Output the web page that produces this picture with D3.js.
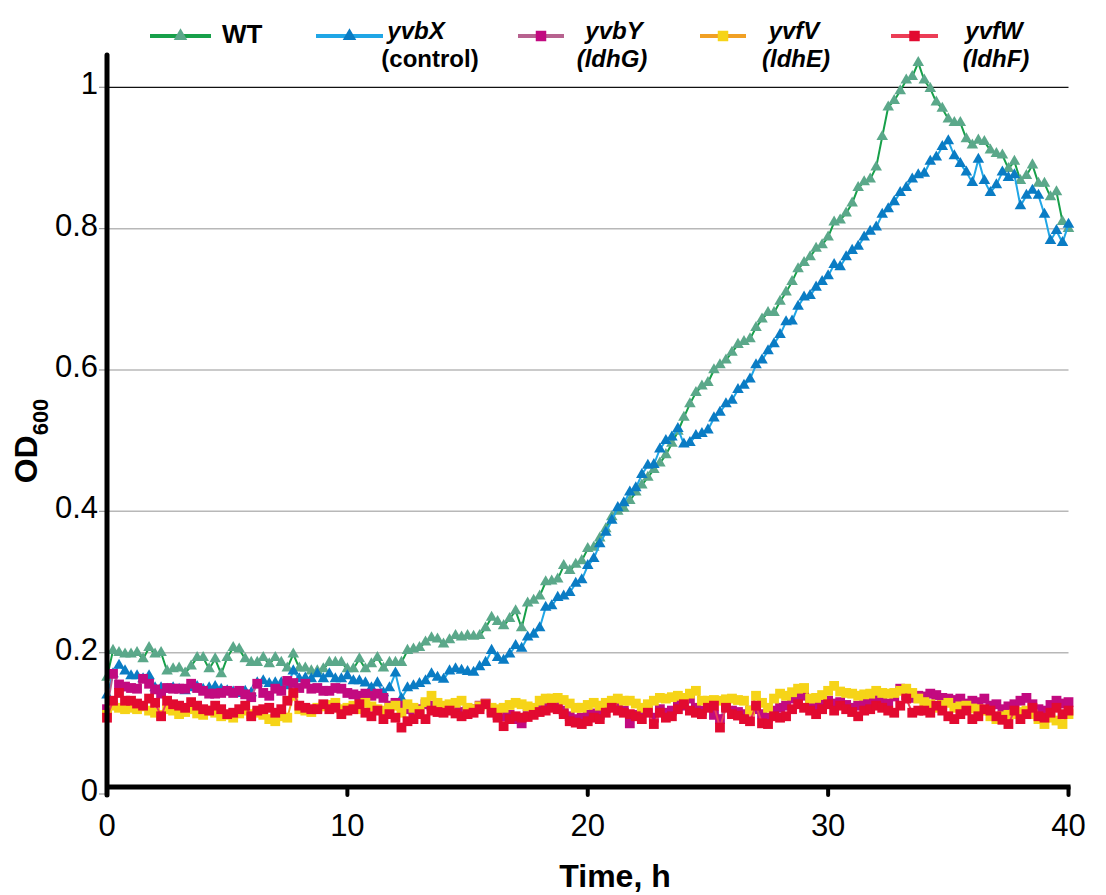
<!DOCTYPE html>
<html>
<head>
<meta charset="utf-8">
<title>OD600 growth curves</title>
<script src="https://d3js.org/d3.v7.min.js"></script>
<style>
  body { margin: 0; background: #fff; }
  svg text { font-family: "Liberation Sans", Arial, Helvetica, sans-serif; fill: #000; }
</style>
</head>
<body>
<div id="chart"></div>
<script>
// sampling times, h (one reading every 15 min)
var hours = d3.range(0, 40.001, 0.25);

var xTicks = [0, 10, 20, 30, 40];
var yTicks = [0, 0.2, 0.4, 0.6, 0.8, 1];

// OD600 readings, one per entry of hours
var wt = [
  0.165,0.203,0.200,0.198,0.198,0.200,0.191,0.207,0.198,0.200,0.174,0.177,0.178,0.171,0.181,0.193,
  0.193,0.177,0.191,0.170,0.193,0.207,0.205,0.191,0.186,0.186,0.193,0.184,0.193,0.186,0.178,0.198,
  0.178,0.178,0.174,0.174,0.177,0.186,0.186,0.186,0.177,0.177,0.191,0.177,0.184,0.193,0.178,0.186,
  0.186,0.186,0.203,0.205,0.207,0.215,0.221,0.219,0.212,0.218,0.224,0.222,0.224,0.223,0.224,0.235,
  0.250,0.244,0.238,0.248,0.259,0.235,0.270,0.274,0.280,0.300,0.301,0.304,0.323,0.316,0.325,0.330,
  0.347,0.349,0.362,0.375,0.392,0.400,0.404,0.415,0.427,0.437,0.448,0.459,0.468,0.480,0.496,0.513,
  0.533,0.552,0.568,0.577,0.582,0.600,0.607,0.614,0.625,0.636,0.640,0.644,0.660,0.672,0.681,0.681,
  0.697,0.710,0.725,0.743,0.752,0.760,0.772,0.777,0.788,0.809,0.812,0.822,0.836,0.858,0.866,0.870,
  0.887,0.930,0.972,0.981,0.995,1.010,1.015,1.035,1.010,0.998,0.979,0.970,0.955,0.950,0.950,0.927,
  0.918,0.925,0.923,0.911,0.906,0.904,0.885,0.895,0.868,0.875,0.890,0.864,0.864,0.845,0.852,0.810,
  0.800
];
var yvbX = [
  0.140,0.170,0.182,0.174,0.167,0.167,0.163,0.167,0.150,0.150,0.148,0.150,0.148,0.146,0.150,0.152,
  0.148,0.150,0.152,0.148,0.146,0.144,0.142,0.145,0.143,0.157,0.160,0.156,0.157,0.157,0.153,0.174,
  0.163,0.164,0.163,0.170,0.163,0.170,0.163,0.163,0.167,0.160,0.160,0.157,0.150,0.157,0.143,0.150,
  0.171,0.135,0.150,0.153,0.156,0.160,0.170,0.165,0.162,0.174,0.177,0.175,0.173,0.172,0.180,0.186,
  0.203,0.193,0.189,0.198,0.210,0.206,0.222,0.226,0.235,0.264,0.266,0.278,0.280,0.285,0.298,0.303,
  0.323,0.333,0.354,0.370,0.387,0.405,0.412,0.427,0.433,0.452,0.465,0.466,0.488,0.500,0.505,0.517,
  0.495,0.497,0.507,0.510,0.515,0.532,0.540,0.552,0.557,0.572,0.578,0.587,0.607,0.614,0.627,0.637,
  0.650,0.668,0.669,0.690,0.703,0.705,0.717,0.725,0.733,0.749,0.746,0.760,0.769,0.775,0.788,0.796,
  0.802,0.820,0.828,0.838,0.851,0.858,0.870,0.876,0.878,0.895,0.901,0.916,0.924,0.903,0.892,0.880,
  0.865,0.898,0.868,0.851,0.862,0.880,0.872,0.876,0.832,0.847,0.854,0.847,0.820,0.783,0.797,0.780,
  0.806
];
var yvbY = [
  0.120,0.170,0.155,0.152,0.150,0.149,0.163,0.156,0.148,0.142,0.150,0.149,0.149,0.149,0.156,0.150,
  0.146,0.142,0.142,0.143,0.146,0.143,0.146,0.141,0.137,0.156,0.143,0.139,0.149,0.146,0.160,0.157,
  0.150,0.156,0.149,0.150,0.146,0.146,0.150,0.149,0.143,0.141,0.139,0.142,0.139,0.142,0.136,0.125,
  0.129,0.125,0.120,0.118,0.120,0.127,0.125,0.122,0.120,0.122,0.118,0.116,0.118,0.120,0.125,0.128,
  0.118,0.112,0.110,0.112,0.106,0.100,0.113,0.118,0.122,0.125,0.126,0.124,0.118,0.110,0.106,0.108,
  0.112,0.114,0.112,0.122,0.125,0.122,0.118,0.100,0.112,0.116,0.118,0.108,0.120,0.115,0.118,0.128,
  0.125,0.135,0.122,0.118,0.127,0.112,0.106,0.125,0.118,0.116,0.113,0.118,0.120,0.113,0.108,0.118,
  0.122,0.125,0.135,0.138,0.139,0.128,0.124,0.130,0.132,0.128,0.130,0.126,0.122,0.125,0.130,0.132,
  0.135,0.130,0.128,0.138,0.149,0.140,0.136,0.139,0.138,0.142,0.140,0.136,0.135,0.133,0.135,0.128,
  0.132,0.130,0.135,0.125,0.127,0.120,0.124,0.127,0.132,0.136,0.127,0.120,0.118,0.126,0.132,0.128,
  0.130
];
var yvfV = [
  0.112,0.125,0.122,0.120,0.122,0.120,0.124,0.118,0.115,0.112,0.120,0.118,0.113,0.116,0.120,0.114,
  0.112,0.118,0.115,0.110,0.112,0.108,0.114,0.118,0.113,0.115,0.112,0.106,0.103,0.110,0.108,0.139,
  0.120,0.118,0.116,0.122,0.124,0.126,0.129,0.120,0.122,0.125,0.120,0.129,0.124,0.120,0.118,0.122,
  0.125,0.115,0.127,0.122,0.118,0.130,0.139,0.129,0.125,0.127,0.129,0.132,0.122,0.120,0.124,0.127,
  0.122,0.120,0.122,0.126,0.129,0.127,0.124,0.122,0.132,0.135,0.135,0.136,0.133,0.128,0.122,0.122,
  0.126,0.129,0.125,0.129,0.132,0.135,0.132,0.132,0.128,0.122,0.127,0.132,0.136,0.135,0.137,0.139,
  0.136,0.142,0.146,0.132,0.132,0.133,0.132,0.134,0.135,0.133,0.132,0.118,0.139,0.129,0.122,0.135,
  0.142,0.139,0.144,0.149,0.150,0.135,0.136,0.140,0.146,0.153,0.145,0.143,0.142,0.139,0.141,0.142,
  0.146,0.143,0.142,0.143,0.146,0.149,0.143,0.135,0.130,0.127,0.122,0.126,0.129,0.122,0.124,0.125,
  0.121,0.120,0.118,0.110,0.106,0.110,0.112,0.113,0.116,0.118,0.113,0.106,0.099,0.108,0.104,0.099,
  0.113
];
var yvfW = [
  0.108,0.132,0.143,0.132,0.132,0.128,0.125,0.135,0.129,0.110,0.132,0.127,0.125,0.122,0.130,0.125,
  0.120,0.118,0.125,0.120,0.113,0.115,0.120,0.125,0.110,0.118,0.120,0.122,0.115,0.120,0.132,0.143,
  0.125,0.122,0.120,0.120,0.127,0.120,0.122,0.113,0.118,0.120,0.127,0.115,0.110,0.118,0.106,0.113,
  0.108,0.094,0.103,0.106,0.113,0.106,0.118,0.116,0.115,0.118,0.114,0.110,0.113,0.115,0.120,0.127,
  0.115,0.108,0.096,0.106,0.110,0.108,0.109,0.112,0.116,0.118,0.122,0.120,0.113,0.103,0.101,0.099,
  0.103,0.108,0.106,0.115,0.122,0.118,0.115,0.113,0.110,0.106,0.115,0.099,0.115,0.108,0.110,0.120,
  0.127,0.118,0.115,0.113,0.122,0.125,0.094,0.122,0.113,0.111,0.106,0.103,0.125,0.100,0.099,0.110,
  0.108,0.110,0.120,0.127,0.122,0.118,0.113,0.120,0.127,0.118,0.125,0.120,0.116,0.110,0.118,0.120,
  0.125,0.122,0.118,0.115,0.125,0.135,0.115,0.118,0.118,0.115,0.125,0.118,0.110,0.106,0.113,0.118,
  0.106,0.110,0.120,0.118,0.110,0.105,0.099,0.118,0.106,0.113,0.122,0.110,0.108,0.115,0.122,0.113,
  0.118
];

var series = [
  {label: "WT",   note: null,        values: wt,   line: "#17a04a", mark: "#5ba88a", shape: "tri"},
  {label: "yvbX", note: "(control)", values: yvbX, line: "#20a6e6", mark: "#0a7cc4", shape: "tri"},
  {label: "yvbY", note: "(ldhG)",    values: yvbY, line: "#b7628f", mark: "#c20a80", shape: "sq"},
  {label: "yvfV", note: "(ldhE)",    values: yvfV, line: "#f1a024", mark: "#f6d418", shape: "sq"},
  {label: "yvfW", note: "(ldhF)",    values: yvfW, line: "#ec3d56", mark: "#e20a30", shape: "sq"}
];

var width = 1106, height = 895;

var svg = d3.select("#chart").append("svg")
    .attr("width", width)
    .attr("height", height);

var x = d3.scaleLinear().domain([0, 40]).range([107, 1068.5]);
var y = d3.scaleLinear().domain([0, 1]).range([794, 87.3]);

var triangle = d3.symbol().type(d3.symbolTriangle).size(58);
var square = d3.symbol().type(d3.symbolSquare).size(96);
function shapePath(s) { return s == "tri" ? triangle() : square(); }

// grid lines
svg.append("g")
    .selectAll("line")
    .data(yTicks.filter(function(d) { return d > 0; }))
    .enter()
    .append("line")
    .attr("x1", x(0))
    .attr("x2", x(40))
    .attr("y1", function(d) { return y(d); })
    .attr("y2", function(d) { return y(d); })
    .attr("stroke", function(d) { return d == 1 ? "#111" : "#b8b8b8"; })
    .attr("stroke-width", function(d) { return d == 1 ? 1.2 : 1.5; });

// y tick labels + little ticks
var yAxis = svg.append("g");
yAxis.selectAll("line")
    .data(yTicks)
    .enter()
    .append("line")
    .attr("x1", 99).attr("x2", 107)
    .attr("y1", function(d) { return y(d); })
    .attr("y2", function(d) { return y(d); })
    .attr("stroke", "#999")
    .attr("stroke-width", 1.2);
yAxis.selectAll("text")
    .data(yTicks)
    .enter()
    .append("text")
    .attr("x", 98)
    .attr("y", function(d) { return y(d) - 4; })
    .attr("dy", "0.36em")
    .attr("text-anchor", "end")
    .style("font-size", "31px")
    .text(function(d) { return d3.format("~g")(d); });

// series: lines then markers
var lineGen = d3.line()
    .x(function(d, i) { return x(hours[i]); })
    .y(function(d) { return y(d); });

var g = svg.selectAll("g.series")
    .data(series)
    .enter()
    .append("g")
    .attr("class", "series");

g.append("path")
    .attr("d", function(s) { return lineGen(s.values); })
    .attr("fill", "none")
    .attr("stroke", function(s) { return s.line; })
    .attr("stroke-width", 2);

g.each(function(s) {
    d3.select(this).selectAll("path.pt")
        .data(s.values)
        .enter()
        .append("path")
        .attr("class", "pt")
        .attr("d", shapePath(s.shape))
        .attr("transform", function(d, i) {
            return "translate(" + x(hours[i]) + "," + y(d) + ")";
        })
        .attr("fill", s.mark);
});

// axes (drawn on top, thick black like the original)
var xAxisY = y(0) - 7;   // the x axis line sits a bit above zero in the original
svg.append("line")
    .attr("x1", x(0) - 2).attr("x2", x(40) + 2)
    .attr("y1", xAxisY).attr("y2", xAxisY)
    .attr("stroke", "#000").attr("stroke-width", 5);
svg.append("line")
    .attr("x1", x(0)).attr("x2", x(0))
    .attr("y1", 55).attr("y2", y(0) + 1)
    .attr("stroke", "#000").attr("stroke-width", 5)
    .attr("stroke-linecap", "round");

var xAxis = svg.append("g");
xAxis.selectAll("line")
    .data(xTicks)
    .enter()
    .append("line")
    .attr("x1", function(d) { return x(d); })
    .attr("x2", function(d) { return x(d); })
    .attr("y1", xAxisY)
    .attr("y2", xAxisY + 8)
    .attr("stroke", "#000")
    .attr("stroke-width", 4)
    .attr("stroke-linecap", "round");
xAxis.selectAll("text")
    .data(xTicks)
    .enter()
    .append("text")
    .attr("x", function(d) { return x(d); })
    .attr("y", 836)
    .attr("text-anchor", "middle")
    .style("font-size", "31px")
    .text(function(d) { return d; });

// axis titles
svg.append("text")
    .attr("x", 615)
    .attr("y", 887)
    .attr("text-anchor", "middle")
    .style("font-size", "32px")
    .style("font-weight", "bold")
    .text("Time, h");

var yTitle = svg.append("text")
    .attr("transform", "translate(37,441) rotate(-90)")
    .attr("text-anchor", "middle")
    .style("font-size", "32px")
    .style("font-weight", "bold");
yTitle.append("tspan").text("OD");
yTitle.append("tspan")
    .attr("dy", 11)
    .style("font-size", "22px")
    .text("600");

// legend
var legendPos = [
    {line: [150, 211], text: 222, noteX: 0},
    {line: [316, 383], text: 416, noteX: 430},
    {line: [518, 564], text: 614, noteX: 612},
    {line: [700, 746], text: 794, noteX: 796},
    {line: [891, 938], text: 994, noteX: 996}
];

var legend = svg.append("g");
series.forEach(function(s, i) {
    var p = legendPos[i];
    var item = legend.append("g");
    item.append("line")
        .attr("x1", p.line[0]).attr("x2", p.line[1])
        .attr("y1", 36).attr("y2", 36)
        .attr("stroke", s.line)
        .attr("stroke-width", 4);
    item.append("path")
        .attr("d", s.shape == "tri" ? d3.symbol().type(d3.symbolTriangle).size(80)() : d3.symbol().type(d3.symbolSquare).size(110)())
        .attr("transform", "translate(" + ((p.line[0] + p.line[1]) / 2) + ",36)")
        .attr("fill", s.mark);
    item.append("text")
        .attr("x", p.text)
        .attr("y", s.note ? 39 : 43)
        .attr("text-anchor", s.note ? "middle" : "start")
        .style("font-size", s.note ? "24px" : "26px")
        .style("font-weight", "bold")
        .style("font-style", s.note ? "italic" : "normal")
        .text(s.label);
    if (s.note) {
        item.append("text")
            .attr("x", p.noteX)
            .attr("y", 67)
            .attr("text-anchor", "middle")
            .style("font-size", "24px")
            .style("font-weight", "bold")
            .style("font-style", s.note == "(control)" ? "normal" : "italic")
            .text(s.note);
    }
});
</script>
</body>
</html>
